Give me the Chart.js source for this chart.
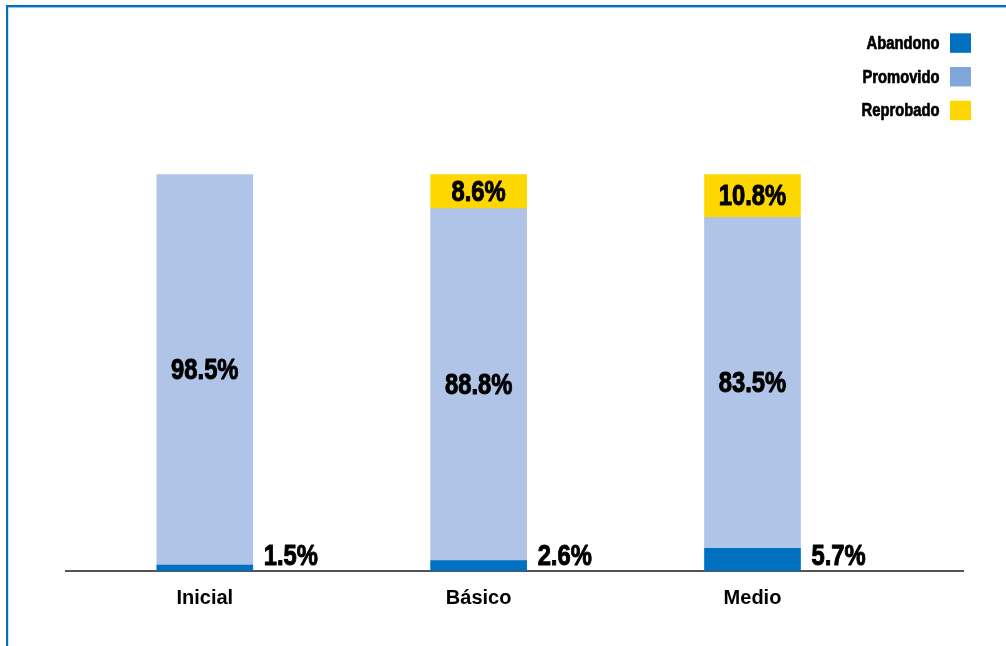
<!DOCTYPE html>
<html>
<head>
<meta charset="utf-8">
<script src="https://cdn.jsdelivr.net/npm/chart.js@4/dist/chart.umd.min.js"></script>
<style>
  html, body { margin: 0; padding: 0; background: #ffffff; }
  canvas { display: block; }
</style>
</head>
<body>
<canvas id="c" width="1006" height="646"></canvas>
<script>
// ---- data ----
const categories = ['Inicial', 'Básico', 'Medio'];
const seriesNames = ['Abandono', 'Promovido', 'Reprobado'];
const abandono  = [1.5, 2.6, 5.7];
const promovido = [98.5, 88.8, 83.5];
const reprobado = [null, 8.6, 10.8];

// ---- styles ----
const FONT = "'Liberation Sans', Arial, sans-serif";
const NARROW = 0.82; // horizontal squeeze to mimic a condensed face
const barColors = ['#0070C0', '#AFC4E7', '#FFD700'];
const legendColors = ['#0070C0', '#7FA7DA', '#FFD700'];
const frameColor = '#0070C0';

const seriesValues = [abandono, promovido, reprobado];
const datasets = seriesNames.map((name, s) => ({
  label: name,
  data: seriesValues[s].map((v, i) => ({ x: i, y: v })),
  backgroundColor: barColors[s],
  borderWidth: 0,
  barThickness: 96,
  stack: 'total'
}));

function narrowText(ctx, txt, x, y, align, weight) {
  ctx.save();
  ctx.translate(x, y);
  ctx.scale(NARROW, 1);
  ctx.textAlign = align;
  ctx.fillText(txt, 0, 0);
  if (weight) {
    ctx.lineWidth = weight;
    ctx.strokeStyle = ctx.fillStyle;
    ctx.lineJoin = 'round';
    ctx.strokeText(txt, 0, 0);
  }
  ctx.restore();
}

const framePlugin = {
  id: 'frame',
  beforeDraw(chart) {
    const ctx = chart.ctx;
    ctx.save();
    ctx.fillStyle = '#ffffff';
    ctx.fillRect(0, 0, chart.width, chart.height);
    ctx.fillStyle = frameColor;
    ctx.fillRect(6, 5, chart.width - 6, 2.4);
    ctx.fillRect(6, 5, 2.2, chart.height - 5);
    ctx.restore();
  }
};

const valueLabels = {
  id: 'valueLabels',
  afterDatasetsDraw(chart) {
    const ctx = chart.ctx;
    ctx.save();
    ctx.fillStyle = '#000000';
    ctx.font = 'bold 29px ' + FONT;
    chart.data.datasets.forEach((ds, s) => {
      const meta = chart.getDatasetMeta(s);
      meta.data.forEach((el, i) => {
        const v = ds.data[i].y;
        if (v === null || v === undefined) return;
        const txt = v.toFixed(1) + '%';
        const p = el.getProps(['x', 'y', 'base', 'width'], true);
        if (s === 0) {
          ctx.textBaseline = 'alphabetic';
          narrowText(ctx, txt, p.x + p.width / 2 + 11, p.base - 6, 'left', 1);
        } else {
          ctx.textBaseline = 'middle';
          narrowText(ctx, txt, p.x, (p.y + p.base) / 2 + 1, 'center', 1);
        }
      });
    });
    ctx.restore();
  }
};

const customLegend = {
  id: 'customLegend',
  afterDraw(chart) {
    const ctx = chart.ctx;
    ctx.save();
    ctx.font = 'bold 18px ' + FONT;
    ctx.textBaseline = 'middle';
    chart.data.datasets.forEach((ds, s) => {
      const cy = 43 + s * 33.7;
      ctx.fillStyle = legendColors[s];
      ctx.fillRect(950, cy - 9.7, 21, 19.5);
      ctx.fillStyle = '#000000';
      narrowText(ctx, ds.label, 939.5, cy + 1, 'right', 0.7);
    });
    ctx.restore();
  }
};

new Chart(document.getElementById('c'), {
  type: 'bar',
  data: { datasets },
  options: {
    responsive: false,
    animation: false,
    devicePixelRatio: 1,
    layout: { padding: { left: 66, right: 43, top: 20, bottom: 21 } },
    plugins: {
      legend: { display: false },
      tooltip: { enabled: false }
    },
    scales: {
      x: {
        type: 'linear',
        stacked: true,
        offset: false,
        min: -0.5068,
        max: 2.7687,
        z: 1,
        grid: { display: false, drawTicks: false },
        border: { display: true, color: '#555555', width: 2 },
        ticks: {
          stepSize: 1,
          includeBounds: false,
          autoSkip: false,
          maxRotation: 0,
          padding: 15,
          color: '#000000',
          font: { family: FONT, size: 20, weight: 'bold' },
          callback: (v) => (Number.isInteger(v) && categories[v] !== undefined) ? categories[v] : ''
        }
      },
      y: {
        stacked: true,
        display: false,
        min: 0,
        max: 139
      }
    }
  },
  plugins: [framePlugin, valueLabels, customLegend]
});
</script>
</body>
</html>
